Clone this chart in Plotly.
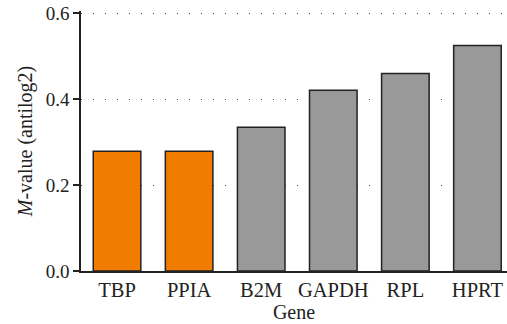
import plotly.graph_objects as go

genes = ["TBP", "PPIA", "B2M", "GAPDH", "RPL", "HPRT"]
m_values = [0.279, 0.279, 0.335, 0.421, 0.460, 0.525]
bar_colors = ["#F07C00", "#F07C00", "#999999", "#999999", "#999999", "#999999"]
y_ticks = [0.0, 0.2, 0.4, 0.6]
y_tick_labels = ["0.0", "0.2", "0.4", "0.6"]

FONT = "Liberation Serif"

fig = go.Figure()
fig.add_trace(go.Bar(
    x=genes, y=m_values,
    marker=dict(color=bar_colors, line=dict(color="#222222", width=1.5)),
    width=0.66,
))

fig.update_layout(
    width=507, height=324,
    margin=dict(l=81, r=0, t=11, b=53),
    paper_bgcolor="white", plot_bgcolor="white",
    font=dict(family=FONT, size=19, color="#222222"),
    showlegend=False,
    xaxis=dict(
        range=[-0.5, 5.41],
        automargin=False,
        showline=True, linecolor="#222222", linewidth=1.5,
        ticks="", showgrid=False,
        tickfont=dict(family=FONT, size=20.5),
        title=dict(text="Gene", font=dict(family=FONT, size=20), standoff=5),
    ),
    yaxis=dict(
        range=[0, 0.6055],
        automargin=False,
        tickvals=y_ticks, ticktext=y_tick_labels,
        showline=True, linecolor="#222222", linewidth=1.5,
        ticks="outside", ticklen=6, tickwidth=1.5, tickcolor="#222222",
        showgrid=True, gridcolor="#444444", gridwidth=1.2,
        griddash="1px,11px",
        zeroline=False,
        tickfont=dict(family=FONT, size=19),
        title=dict(text="<i>M</i>-value (antilog2)", font=dict(family=FONT, size=20), standoff=8),
    ),
)

fig.write_html(
    "out.html",
    config={"displayModeBar": False},
    post_script="document.body.style.margin='0';document.body.style.overflow='hidden';",
)
